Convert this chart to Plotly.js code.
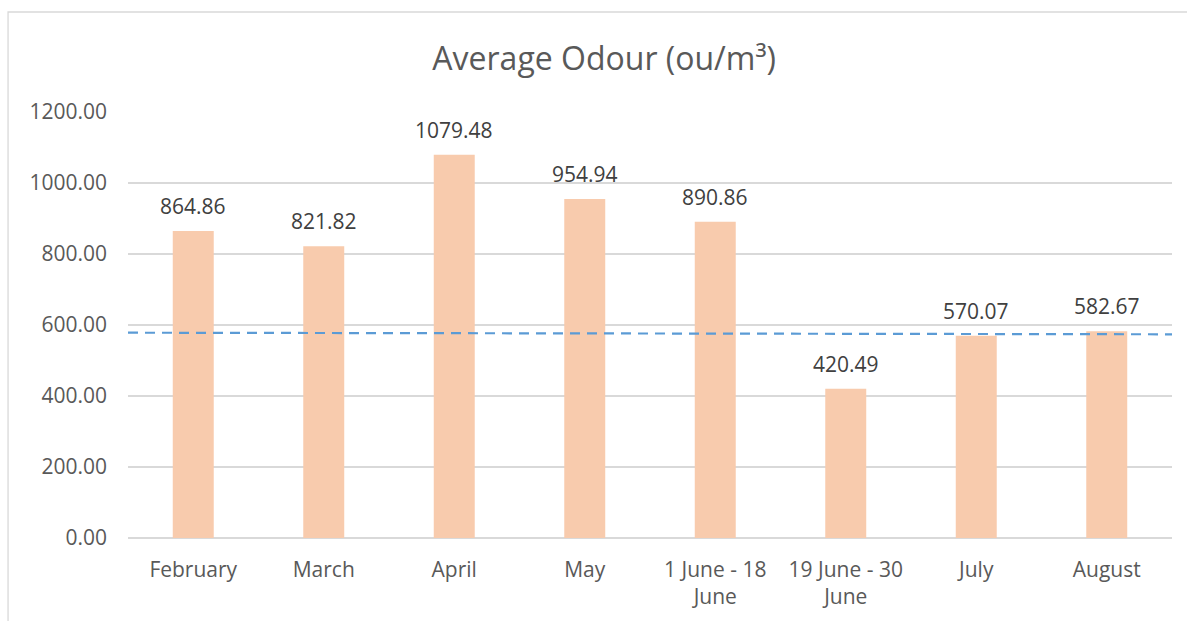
<!DOCTYPE html>
<html>
<head>
<meta charset="utf-8">
<script src="https://cdn.plot.ly/plotly-3.0.1.min.js"></script>
<style>
  html, body { margin: 0; padding: 0; background: #ffffff; }
  #chart { width: 1187px; height: 621px; }
</style>
</head>
<body>
<div id="chart"></div>
<script>
const categories = ["February", "March", "April", "May", "1 June - 18<br>June", "19 June - 30<br>June", "July", "August"];
const odourValues = [864.86, 821.82, 1079.48, 954.94, 890.86, 420.49, 570.07, 582.67];
const referenceLine = [578.3, 573.8]; // dashed line value at left and right ends
const yTicks = [0, 200, 400, 600, 800, 1000, 1200];

const FONT = "Open Sans, Noto Sans, sans-serif";

const barTrace = {
  type: "bar",
  x: categories,
  y: odourValues,
  marker: { color: "#F8CBAD" },
  hoverinfo: "x+y",
  showlegend: false
};

const annotations = categories.map((c, i) => ({
  x: c,
  y: odourValues[i],
  xref: "x",
  yref: "y",
  text: odourValues[i].toFixed(2),
  showarrow: false,
  yanchor: "bottom",
  yshift: 9,
  font: { family: FONT, size: 21, color: "#404040" }
}));

const shapes = [
  {
    type: "line",
    xref: "paper", yref: "y",
    x0: 0, x1: 1,
    y0: referenceLine[0], y1: referenceLine[1],
    line: { color: "#5B9BD5", width: 2.2, dash: "10px,7px" }
  },
  {
    type: "rect",
    xref: "paper", yref: "paper",
    x0: -0.1149, x1: 1.03, y0: -0.25, y1: 1.2347,
    line: { color: "#D9D9D9", width: 1.3 },
    fillcolor: "rgba(0,0,0,0)",
    layer: "below"
  }
];

const layout = {
  width: 1187,
  height: 621,
  margin: { l: 128, r: 15, t: 112, b: 83 },
  paper_bgcolor: "#ffffff",
  plot_bgcolor: "#ffffff",
  font: { family: FONT, color: "#595959" },
  title: {
    text: "Average Odour (ou/m³)",
    font: { family: FONT, size: 32, color: "#595959" },
    xref: "container",
    x: 0.509,
    xanchor: "center",
    yref: "container",
    y: 0.906,
    yanchor: "middle"
  },
  bargap: 0.686,
  xaxis: {
    type: "category",
    showgrid: false,
    zeroline: false,
    showline: false,
    ticks: "",
    tickfont: { family: FONT, size: 21, color: "#595959" },
    ticklabelstandoff: 17,
    fixedrange: true
  },
  yaxis: {
    range: [0, 1200],
    tickvals: yTicks,
    ticktext: yTicks.map(v => v.toFixed(2)),
    showgrid: true,
    gridcolor: "#D9D9D9",
    gridwidth: 1.3,
    zeroline: true,
    zerolinecolor: "#D9D9D9",
    zerolinewidth: 1.3,
    showline: false,
    ticks: "",
    tickfont: { family: FONT, size: 21, color: "#595959" },
    ticklabelstandoff: 20,
    fixedrange: true
  },
  annotations: annotations,
  shapes: shapes,
  showlegend: false
};

Plotly.newPlot("chart", [barTrace], layout, { displayModeBar: false, staticPlot: true });
</script>
</body>
</html>
